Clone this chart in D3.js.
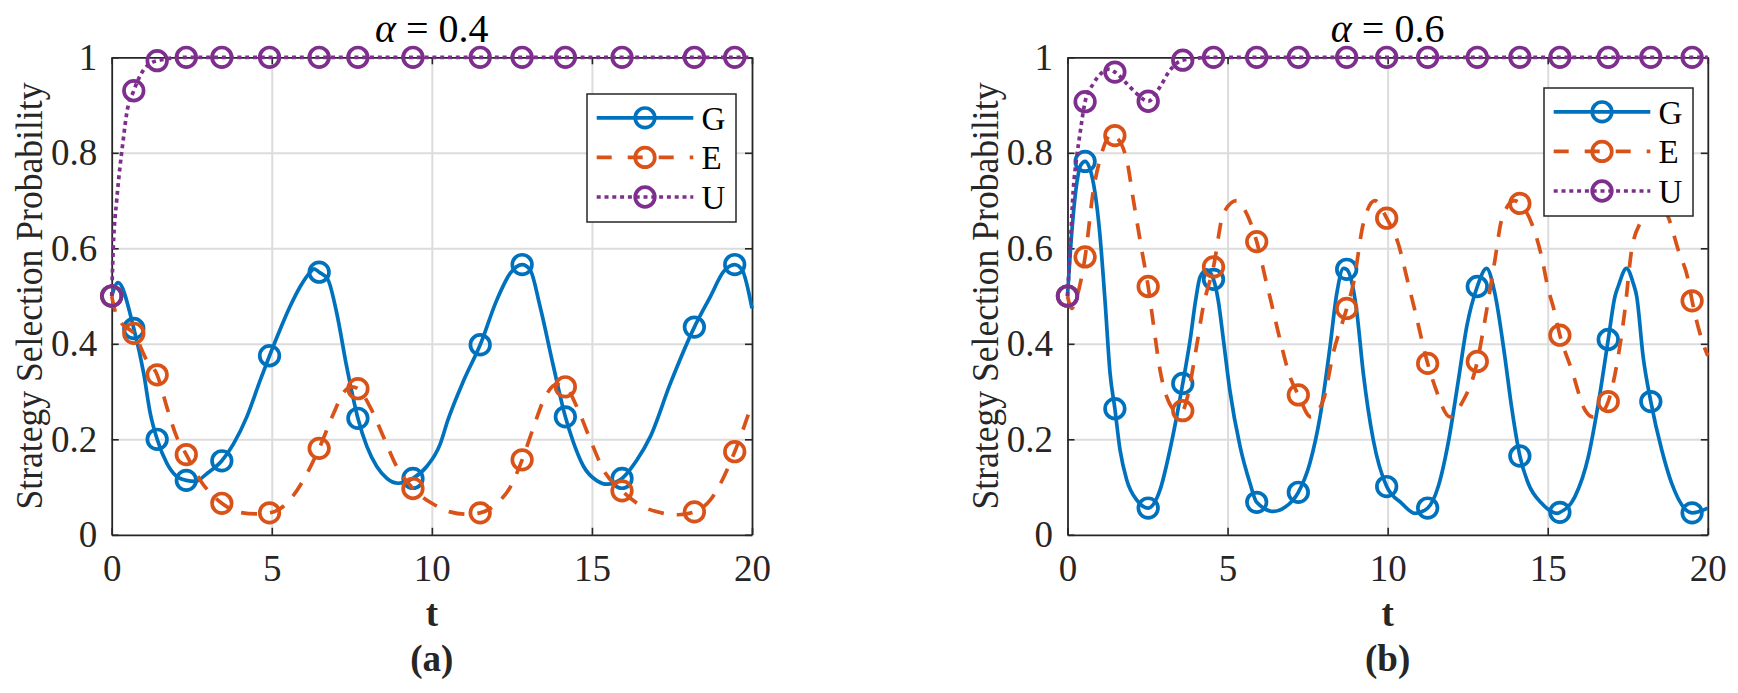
<!DOCTYPE html>
<html>
<head>
<meta charset="utf-8">
<script src="https://cdn.jsdelivr.net/npm/d3@7/dist/d3.min.js"></script>
<style>
  body { margin: 0; background: #fff; }
</style>
</head>
<body>
<div id="chart-area"></div>
<script>
/*
 *    two panels, strategy selection probability vs t
 */

const series = ["G", "E", "U"];
const colours = ["#0072BD", "#D95319", "#7E2F8E"];
const xTicks = [0, 5, 10, 15, 20];
const yTicks = [0, 0.2, 0.4, 0.6, 0.8, 1];
const yTickLabels = ["0", "0.2", "0.4", "0.6", "0.8", "1"];
const alphas = ["0.4", "0.6"];
const captions = ["(a)", "(b)"];

// t values where the markers sit (solver steps)
const markA = [0, 0.69, 1.42, 2.33, 3.44, 4.93, 6.48, 7.69, 9.41, 11.51, 12.82, 14.17, 15.94, 18.2, 19.46];
const markB = [0, 0.55, 1.48, 2.52, 3.6, 4.56, 5.91, 7.21, 8.72, 9.97, 11.25, 12.8, 14.13, 15.38, 16.89, 18.22, 19.51];

// panel (a), alpha = 0.4   [t, value]
const gA = [[0, 0.5], [0.2, 0.528], [0.69, 0.432], [1.0, 0.338], [1.2, 0.256], [1.42, 0.2], [1.72, 0.15],
    [2.0, 0.124], [2.33, 0.114], [2.62, 0.112], [2.97, 0.128], [3.44, 0.155], [3.8, 0.19], [4.22, 0.247],
    [4.64, 0.324], [4.93, 0.375], [5.26, 0.43], [5.57, 0.478], [5.89, 0.52], [6.2, 0.55], [6.32, 0.557],
    [6.48, 0.55], [6.75, 0.535], [7.03, 0.464], [7.34, 0.352], [7.69, 0.244], [7.97, 0.185], [8.28, 0.143],
    [8.6, 0.118], [8.95, 0.108], [9.41, 0.118], [9.84, 0.143], [10.26, 0.19], [10.5, 0.24], [11.0, 0.324],
    [11.51, 0.398], [12.03, 0.492], [12.45, 0.548], [12.82, 0.566], [13.07, 0.555], [13.38, 0.478],
    [13.8, 0.352], [14.17, 0.247], [14.43, 0.192], [14.74, 0.143], [15.16, 0.113], [15.47, 0.106],
    [15.94, 0.118], [16.41, 0.157], [16.82, 0.205], [17.45, 0.317], [18.2, 0.435], [18.7, 0.499],
    [19.11, 0.551], [19.46, 0.566], [19.69, 0.555], [20, 0.474]];
const eA = [[0, 0.5], [0.1, 0.47], [0.31, 0.443], [0.69, 0.422], [1.09, 0.366], [1.42, 0.335], [1.72, 0.268],
    [2.03, 0.205], [2.33, 0.168], [2.76, 0.115], [3.44, 0.066], [4.0, 0.047], [4.5, 0.044], [4.93, 0.046],
    [5.47, 0.066], [5.99, 0.115], [6.48, 0.181], [6.93, 0.254], [7.24, 0.298], [7.5, 0.31], [7.69, 0.306],
    [8.07, 0.268], [8.49, 0.205], [8.9, 0.143], [9.41, 0.097], [10.0, 0.066], [10.57, 0.048], [11.1, 0.043],
    [11.51, 0.046], [12.03, 0.066], [12.45, 0.1], [12.82, 0.157], [13.18, 0.226], [13.49, 0.282],
    [13.9, 0.315], [14.17, 0.31], [14.53, 0.268], [14.95, 0.199], [15.36, 0.136], [15.94, 0.092],
    [16.41, 0.066], [17.24, 0.045], [17.7, 0.042], [18.2, 0.048], [18.7, 0.073], [19.46, 0.174], [20, 0.275]];
const uA = [[0, 0.5], [0.05, 0.603], [0.155, 0.7], [0.26, 0.771], [0.36, 0.827], [0.47, 0.883], [0.69, 0.93],
    [0.99, 0.973], [1.42, 0.993], [2.33, 1], [3.44, 1], [4.93, 1], [6.48, 1], [7.69, 1], [9.41, 1], [11.51, 1],
    [12.82, 1], [14.17, 1], [15.94, 1], [18.2, 1], [19.46, 1], [20, 1]];

// panel (b), alpha = 0.6
const gB = [[0, 0.5], [0.13, 0.63], [0.29, 0.736], [0.41, 0.774], [0.55, 0.782], [0.81, 0.736], [1.01, 0.63],
    [1.17, 0.492], [1.33, 0.338], [1.48, 0.264], [1.64, 0.178], [1.85, 0.115], [2.16, 0.073], [2.52, 0.056],
    [2.89, 0.094], [3.2, 0.178], [3.6, 0.317], [3.83, 0.408], [4.0, 0.49], [4.14, 0.54], [4.35, 0.555],
    [4.56, 0.535], [4.71, 0.49], [4.87, 0.408], [5.07, 0.303], [5.39, 0.185], [5.7, 0.108], [5.91, 0.068],
    [6.43, 0.049], [6.8, 0.058], [7.21, 0.089], [7.57, 0.15], [7.89, 0.248], [8.2, 0.394], [8.41, 0.505],
    [8.62, 0.558], [8.72, 0.556], [8.93, 0.513], [9.03, 0.47], [9.24, 0.338], [9.55, 0.199], [9.97, 0.101],
    [10.44, 0.066], [10.85, 0.045], [11.25, 0.056], [11.58, 0.101], [11.89, 0.192], [12.21, 0.324],
    [12.47, 0.436], [12.8, 0.52], [13.09, 0.558], [13.35, 0.505], [13.66, 0.373], [13.87, 0.268],
    [14.13, 0.165], [14.39, 0.108], [14.81, 0.066], [15.3, 0.045], [15.38, 0.047], [15.85, 0.08],
    [16.27, 0.164], [16.58, 0.275], [16.89, 0.409], [17.1, 0.499], [17.2, 0.52], [17.46, 0.558],
    [17.67, 0.527], [17.78, 0.499], [17.98, 0.373], [18.22, 0.279], [18.56, 0.178], [18.87, 0.108],
    [19.51, 0.046], [20, 0.056]];
const eB = [[0, 0.5], [0.13, 0.474], [0.3, 0.5], [0.55, 0.582], [0.81, 0.722], [1.01, 0.785], [1.4, 0.84],
    [1.48, 0.836], [1.85, 0.785], [2.06, 0.7], [2.32, 0.596], [2.52, 0.52], [2.68, 0.443], [2.89, 0.345],
    [3.1, 0.289], [3.45, 0.257], [3.6, 0.26], [3.72, 0.282], [4.03, 0.394], [4.24, 0.478], [4.56, 0.561],
    [4.87, 0.673], [5.28, 0.7], [5.54, 0.68], [5.91, 0.614], [6.22, 0.526], [6.32, 0.499], [6.64, 0.408],
    [6.95, 0.331], [7.21, 0.293], [7.6, 0.247], [7.99, 0.282], [8.3, 0.38], [8.72, 0.474], [8.93, 0.526],
    [9.24, 0.652], [9.6, 0.7], [9.97, 0.663], [10.33, 0.61], [10.64, 0.527], [10.85, 0.47], [11.25, 0.359],
    [11.48, 0.31], [11.95, 0.247], [12.31, 0.275], [12.8, 0.363], [13.04, 0.45], [13.35, 0.575],
    [13.56, 0.659], [13.95, 0.7], [14.13, 0.694], [14.5, 0.652], [14.81, 0.582], [15.02, 0.513],
    [15.17, 0.478], [15.38, 0.418], [15.75, 0.345], [16.16, 0.262], [16.4, 0.247], [16.68, 0.255],
    [16.89, 0.279], [17.2, 0.373], [17.41, 0.47], [17.62, 0.596], [17.93, 0.659], [18.22, 0.695],
    [18.4, 0.7], [18.76, 0.666], [19.08, 0.596], [19.39, 0.533], [19.51, 0.49], [19.91, 0.39], [20, 0.375]];
const uB = [[0, 0.5], [0.08, 0.596], [0.18, 0.722], [0.29, 0.792], [0.39, 0.84], [0.55, 0.907], [0.81, 0.945],
    [1.12, 0.97], [1.3, 0.975], [1.48, 0.969], [1.85, 0.945], [2.16, 0.924], [2.52, 0.908], [2.89, 0.938],
    [3.2, 0.973], [3.6, 0.994], [4.56, 1], [5.91, 1], [7.21, 1], [8.72, 1], [9.97, 1], [11.25, 1], [12.8, 1],
    [14.13, 1], [15.38, 1], [16.89, 1], [18.22, 1], [19.51, 1], [20, 1]];

const width = 640.3;
const height = 477.5;
const axisCol = "#262626";
const serif = "'Liberation Serif', 'Times New Roman', 'DejaVu Serif', serif";
const lw = 3.7;
const dash = [null, "16,13", "4,3.8"];

const panels = [
    { left: 111.7, top: 57.3, marks: markA, data: [gA, eA, uA], legend: [587, 94] },
    { left: 1067.5, top: 57.3, marks: markB, data: [gB, eB, uB], legend: [1544, 88] }
];

const svg = d3.select("#chart-area")
    .append("svg")
    .attr("width", 1738)
    .attr("height", 693)
    .style("display", "block");

const x = d3.scaleLinear().domain([0, 20]).range([0, width]);
const y = d3.scaleLinear().domain([0, 1]).range([height, 0]);

const line = d3.line()
    .x((d) => x(d[0]))
    .y((d) => y(d[1]))
    .curve(d3.curveMonotoneX);

panels.forEach((p, pi) => {
    const g = svg.append("g").attr("transform", "translate(" + p.left + ", " + p.top + ")");

    /** Grid */
    g.append("g")
        .attr("class", "grid")
        .attr("transform", "translate(0, " + height + ")")
        .call(d3.axisBottom(x).tickValues(xTicks.slice(1, -1)).tickSize(-height).tickFormat(""))
        .call((s) => s.select(".domain").remove());
    g.append("g")
        .attr("class", "grid")
        .call(d3.axisLeft(y).tickValues(yTicks.slice(1, -1)).tickSize(-width).tickFormat(""))
        .call((s) => s.select(".domain").remove());
    g.selectAll(".grid line").attr("stroke", "#dcdcdc").attr("stroke-width", 2);

    /** Axes, ticks pointing inside */
    const bottomAxis = d3.axisBottom(x).tickValues(xTicks).tickSizeInner(-7).tickSizeOuter(0).tickPadding(19.5);
    const topAxis = d3.axisTop(x).tickValues(xTicks).tickSizeInner(-7).tickSizeOuter(0).tickFormat("");
    const leftAxis = d3.axisLeft(y).tickValues(yTicks).tickSizeInner(-7).tickSizeOuter(0).tickPadding(14.5)
        .tickFormat((d, i) => yTickLabels[i]);
    const rightAxis = d3.axisRight(y).tickValues(yTicks).tickSizeInner(-7).tickSizeOuter(0).tickFormat("");

    g.append("g").attr("class", "axis").attr("transform", "translate(0, " + height + ")").call(bottomAxis);
    g.append("g").attr("class", "axis").call(topAxis);
    g.append("g").attr("class", "axis").call(leftAxis);
    g.append("g").attr("class", "axis").attr("transform", "translate(" + width + ", 0)").call(rightAxis);

    g.selectAll(".axis").attr("font-family", null).attr("font-size", null);
    g.selectAll(".axis .domain").attr("stroke", axisCol).attr("stroke-width", 1.8);
    g.selectAll(".axis line").attr("stroke", axisCol).attr("stroke-width", 1.6);
    g.selectAll(".axis text")
        .style("font-family", serif)
        .style("font-size", "37px")
        .style("fill", axisCol);

    /** Labeling */
    const title = g.append("text")
        .attr("x", width / 2)
        .attr("y", 41.7 - p.top)
        .attr("text-anchor", "middle")
        .style("font-family", serif)
        .style("font-size", "40px")
        .style("fill", "black");
    title.append("tspan").style("font-style", "italic").text("α");
    title.append("tspan").text(" = " + alphas[pi]);

    g.append("text")
        .attr("transform", "translate(-70, " + height / 2 + ") rotate(-90)")
        .attr("text-anchor", "middle")
        .attr("textLength", 427)
        .attr("lengthAdjust", "spacingAndGlyphs")
        .style("font-family", serif)
        .style("font-size", "37px")
        .style("fill", axisCol)
        .text("Strategy Selection Probability");

    g.append("text")
        .attr("x", width / 2)
        .attr("y", 626.5 - p.top)
        .attr("text-anchor", "middle")
        .style("font-family", serif)
        .style("font-size", "37px")
        .style("font-weight", "bold")
        .style("fill", axisCol)
        .text("t");

    g.append("text")
        .attr("x", width / 2)
        .attr("y", 671 - p.top)
        .attr("text-anchor", "middle")
        .style("font-family", serif)
        .style("font-size", "37px")
        .style("font-weight", "bold")
        .style("fill", axisCol)
        .text(captions[pi]);

    /** Data Render */
    p.data.forEach((d, si) => {
        g.append("path")
            .datum(d)
            .attr("fill", "none")
            .attr("stroke", colours[si])
            .attr("stroke-width", lw)
            .attr("stroke-dasharray", dash[si])
            .attr("d", line);

        g.selectAll(".mk" + si)
            .data(d.filter((k) => p.marks.includes(k[0])))
            .enter()
            .append("circle")
            .attr("class", "mk" + si)
            .attr("cx", (k) => x(k[0]))
            .attr("cy", (k) => y(k[1]))
            .attr("r", 9.8)
            .attr("fill", "none")
            .attr("stroke", colours[si])
            .attr("stroke-width", lw);
    });

    /** Legend */
    const lg = svg.append("g").attr("transform", "translate(" + p.legend[0] + ", " + p.legend[1] + ")");
    lg.append("rect")
        .attr("width", 149)
        .attr("height", 128)
        .attr("fill", "white")
        .attr("stroke", axisCol)
        .attr("stroke-width", 1.5);
    series.forEach((s, si) => {
        const ry = 23.8 + si * 39.6;
        lg.append("line")
            .attr("x1", 9.7).attr("x2", 106.3)
            .attr("y1", ry).attr("y2", ry)
            .attr("stroke", colours[si])
            .attr("stroke-width", lw)
            .attr("stroke-dasharray", si === 1 ? "15,16" : dash[si]);
        lg.append("circle")
            .attr("cx", 58).attr("cy", ry)
            .attr("r", 9.8)
            .attr("fill", "none")
            .attr("stroke", colours[si])
            .attr("stroke-width", lw);
        lg.append("text")
            .attr("x", 114.5)
            .attr("y", ry + 11.8)
            .style("font-family", serif)
            .style("font-size", "33px")
            .style("fill", "black")
            .text(s);
    });
});
</script>
</body>
</html>
